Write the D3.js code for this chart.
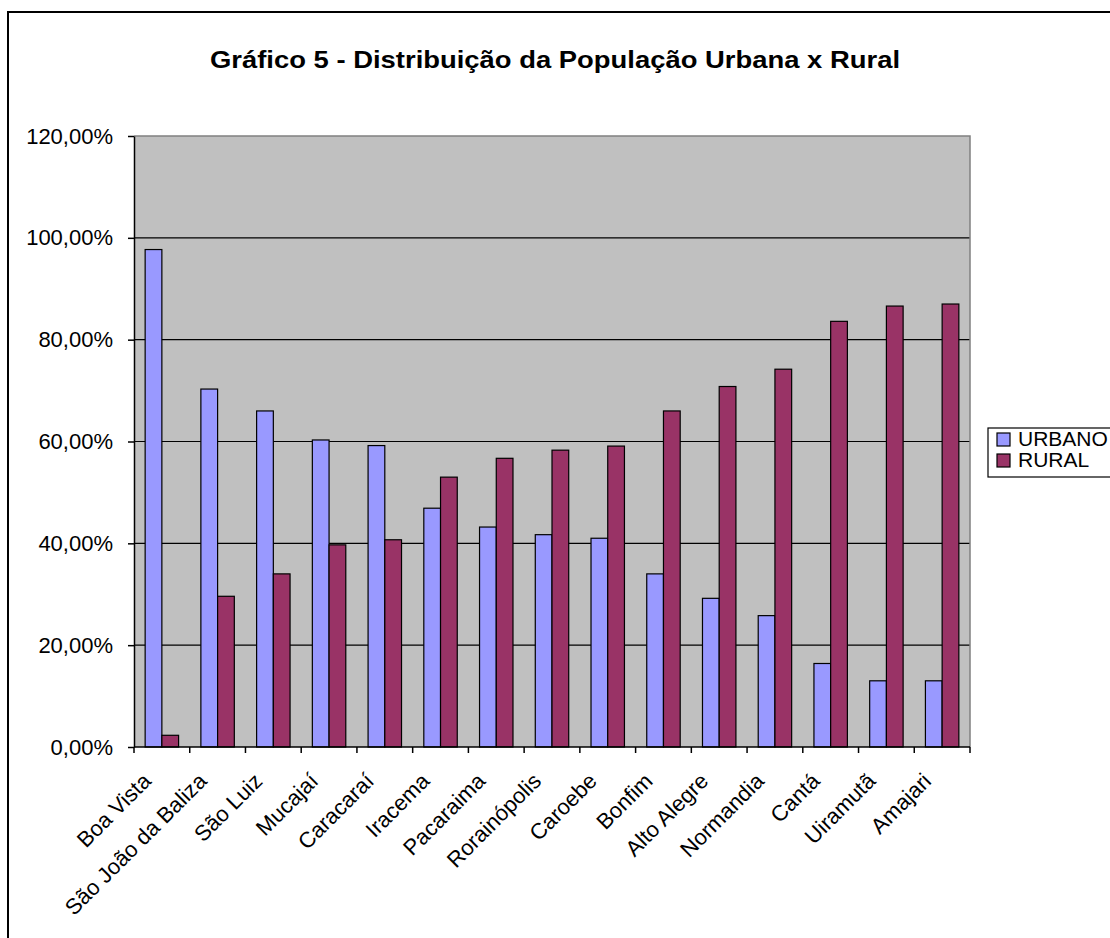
<!DOCTYPE html>
<html>
<head>
<meta charset="utf-8">
<script src="https://cdn.jsdelivr.net/npm/d3@7"></script>
<style>
  body { margin: 0; background: #fff; }
  svg { font-family: "Liberation Sans", Arial, sans-serif; }
</style>
</head>
<body>
<div id="chart"></div>
<script>
const title = 'Gráfico 5 - Distribuição da População Urbana x Rural';
const municipios = ['Boa Vista', 'São João da Baliza', 'São Luiz', 'Mucajaí', 'Caracaraí',
  'Iracema', 'Pacaraima', 'Rorainópolis', 'Caroebe', 'Bonfim', 'Alto Alegre',
  'Normandia', 'Cantá', 'Uiramutã', 'Amajari'];
const urbano = [97.7, 70.3, 66.0, 60.3, 59.2, 46.9, 43.2, 41.7, 41.0, 34.0, 29.2, 25.8, 16.4, 13.0, 13.0];
const rural = [2.3, 29.6, 34.0, 39.7, 40.7, 53.0, 56.7, 58.3, 59.1, 66.0, 70.8, 74.2, 83.6, 86.6, 87.0];
const seriesNames = ['URBANO', 'RURAL'];
const yTicks = [0, 20, 40, 60, 80, 100, 120];

const colors = { URBANO: '#9999ff', RURAL: '#993366' };

const W = 1110, H = 938;
const plot = { left: 134, right: 970, top: 136, bottom: 747 };

const svg = d3.select('#chart').append('svg')
  .attr('width', W).attr('height', H);

// outer frame (runs off the right and bottom edge)
svg.append('rect')
  .attr('x', 8).attr('y', 12)
  .attr('width', W + 20).attr('height', H + 20)
  .attr('fill', '#fff').attr('stroke', '#000').attr('stroke-width', 2);

svg.append('text')
  .attr('x', 555).attr('y', 68)
  .attr('text-anchor', 'middle')
  .attr('font-size', 24).attr('font-weight', 'bold')
  .attr('textLength', 690).attr('lengthAdjust', 'spacingAndGlyphs')
  .text(title);

const x0 = d3.scaleBand()
  .domain(municipios)
  .range([plot.left, plot.right])
  .paddingInner(0.4).paddingOuter(0.2);

const x1 = d3.scaleBand()
  .domain(seriesNames)
  .range([0, x0.bandwidth()]);

const y = d3.scaleLinear()
  .domain([0, 120])
  .range([plot.bottom, plot.top]);

// plot background
svg.append('rect')
  .attr('x', plot.left).attr('y', plot.top)
  .attr('width', plot.right - plot.left).attr('height', plot.bottom - plot.top)
  .attr('fill', '#c0c0c0');

// gridlines
svg.append('g')
  .selectAll('line')
  .data(yTicks.filter(t => t > 0 && t < 120))
  .enter().append('line')
  .attr('x1', plot.left).attr('x2', plot.right)
  .attr('y1', d => y(d)).attr('y2', d => y(d))
  .attr('stroke', '#000').attr('stroke-width', 1.2);

// frame: top and right in grey
svg.append('path')
  .attr('d', `M${plot.left},${plot.top}H${plot.right}V${plot.bottom}`)
  .attr('fill', 'none').attr('stroke', '#808080').attr('stroke-width', 1.5);

// bars
const data = municipios.map((m, i) => ({ m, vals: [
  { key: 'URBANO', v: urbano[i] }, { key: 'RURAL', v: rural[i] }] }));

svg.append('g')
  .selectAll('g')
  .data(data)
  .enter().append('g')
  .attr('transform', d => `translate(${x0(d.m)},0)`)
  .selectAll('rect')
  .data(d => d.vals)
  .enter().append('rect')
  .attr('x', d => x1(d.key))
  .attr('y', d => y(d.v))
  .attr('width', x1.bandwidth())
  .attr('height', d => y(0) - y(d.v))
  .attr('fill', d => colors[d.key])
  .attr('stroke', '#000').attr('stroke-width', 1.2);

// y axis
const yAxis = svg.append('g')
  .attr('transform', `translate(${plot.left},0)`)
  .call(d3.axisLeft(y).tickValues(yTicks).tickSize(6).tickSizeOuter(0)
    .tickFormat(d => d3.format('.2f')(d).replace('.', ',') + '%'));
yAxis.select('.domain').attr('stroke', '#000').attr('stroke-width', 1.5);
yAxis.selectAll('.tick line').attr('stroke', '#000').attr('stroke-width', 1.5);
yAxis.selectAll('.tick text')
  .attr('font-size', 22).attr('fill', '#000')
  .attr('font-family', '"Liberation Sans", Arial, sans-serif')
  .attr('x', -21);

// x axis: ticks at category boundaries
const step = x0.step();
const boundaries = d3.range(municipios.length + 1).map(i => plot.left + i * step);
svg.append('line')
  .attr('x1', plot.left).attr('x2', plot.right)
  .attr('y1', plot.bottom).attr('y2', plot.bottom)
  .attr('stroke', '#000').attr('stroke-width', 1.5);
svg.append('g')
  .selectAll('line')
  .data(boundaries)
  .enter().append('line')
  .attr('x1', d => d).attr('x2', d => d)
  .attr('y1', plot.bottom).attr('y2', plot.bottom + 6)
  .attr('stroke', '#000').attr('stroke-width', 1.5);

svg.append('g')
  .selectAll('text')
  .data(municipios)
  .enter().append('text')
  .attr('transform', d => `translate(${x0(d) + x0.bandwidth() / 2 - 15},${plot.bottom + 30}) rotate(-45)`)
  .attr('text-anchor', 'end')
  .attr('font-size', 22)
  .attr('dy', '0.35em')
  .text(d => d);

// legend
const legend = svg.append('g').attr('transform', 'translate(988,428)');
legend.append('rect')
  .attr('x', 0).attr('y', 0).attr('width', 150).attr('height', 49)
  .attr('fill', '#fff').attr('stroke', '#000').attr('stroke-width', 1.2);
seriesNames.forEach((s, i) => {
  legend.append('rect')
    .attr('x', 9).attr('y', 5 + i * 21).attr('width', 13).attr('height', 13)
    .attr('fill', colors[s]).attr('stroke', '#000').attr('stroke-width', 1.2);
  legend.append('text')
    .attr('x', 30).attr('y', 18 + i * 21)
    .attr('font-size', 21)
    .text(s);
});
</script>
</body>
</html>
